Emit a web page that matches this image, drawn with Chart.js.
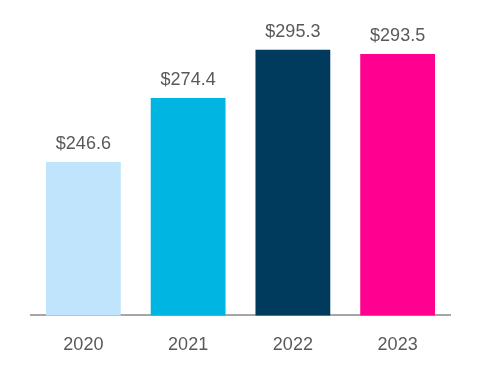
<!DOCTYPE html>
<html>
<head>
<meta charset="utf-8">
<script src="https://cdn.jsdelivr.net/npm/chart.js@4.4.0/dist/chart.umd.min.js"></script>
<style>
  html, body { margin: 0; padding: 0; background: #ffffff; }
  #wrap { width: 480px; height: 384px; position: relative; }
</style>
</head>
<body>
<div id="wrap"><canvas id="c" width="480" height="384"></canvas></div>
<script>
const categories = ["2020", "2021", "2022", "2023"];
const revenue = [246.6, 274.4, 295.3, 293.5];
const valueLabels = ["$246.6", "$274.4", "$295.3", "$293.5"];
const barColors = ["#BFE4FB", "#00B5E2", "#003A5D", "#FF0090"];

const FONT = '"Liberation Sans", Arial, sans-serif';

const valueLabelPlugin = {
  id: 'valueLabels',
  afterDatasetsDraw(chart) {
    const ctx = chart.ctx;
    const meta = chart.getDatasetMeta(0);
    ctx.save();
    ctx.font = '18px ' + FONT;
    ctx.fillStyle = '#595959';
    ctx.textAlign = 'center';
    ctx.textBaseline = 'alphabetic';
    meta.data.forEach((bar, i) => {
      ctx.fillText(valueLabels[i], bar.x, bar.y - 13);
    });
    ctx.restore();
  }
};

new Chart(document.getElementById('c'), {
  type: 'bar',
  data: {
    labels: categories,
    datasets: [{
      data: revenue,
      backgroundColor: barColors,
      borderWidth: 0,
      barPercentage: 1.0,
      categoryPercentage: 0.714
    }]
  },
  options: {
    responsive: false,
    animation: false,
    devicePixelRatio: 1,
    layout: { padding: { top: 39, left: 31, right: 30, bottom: 9 } },
    plugins: {
      legend: { display: false },
      tooltip: { enabled: false }
    },
    scales: {
      x: {
        grid: { display: false, drawTicks: false },
        border: { display: true, color: '#A6A6A6', width: 2 },
        ticks: {
          color: '#595959',
          font: { family: FONT, size: 18 },
          padding: 19
        }
      },
      y: {
        display: false,
        min: 180,
        max: 300
      }
    }
  },
  plugins: [valueLabelPlugin]
});
</script>
</body>
</html>
